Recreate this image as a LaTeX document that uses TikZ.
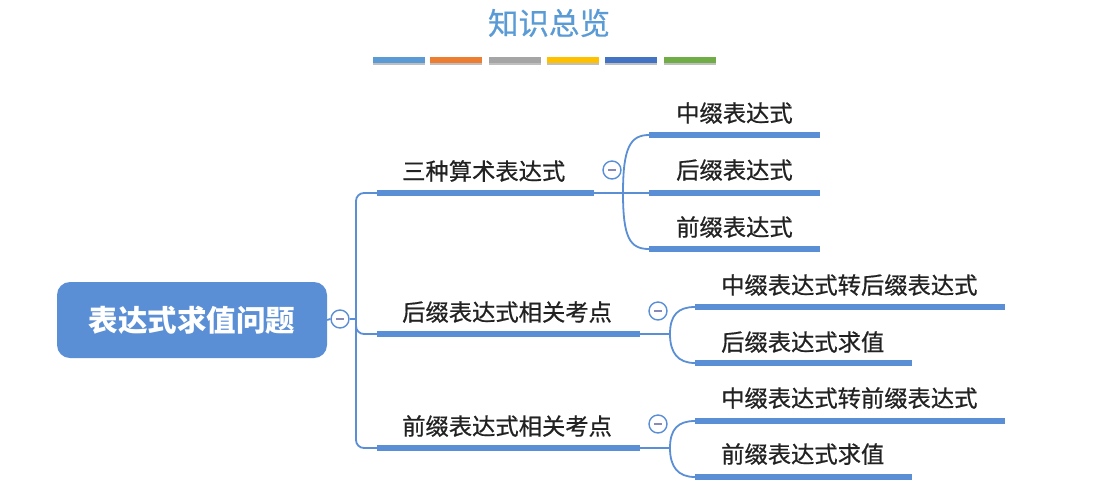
\documentclass[tikz,border=0pt]{standalone}
\usepackage{fontspec}
\newfontfamily\cjk{Noto Sans CJK SC}
\newfontfamily\cjkm{Noto Sans CJK SC}[FakeBold=0.6]
\definecolor{mblue}{HTML}{5A8ED5}
\definecolor{tblue}{HTML}{5B9BD5}
\definecolor{txt}{HTML}{222222}
\definecolor{minusc}{HTML}{8A8AB8}
\definecolor{c1}{HTML}{5B9BD5}
\definecolor{c2}{HTML}{ED7D31}
\definecolor{c3}{HTML}{A5A5A5}
\definecolor{c4}{HTML}{FFC000}
\definecolor{c5}{HTML}{4472C4}
\definecolor{c6}{HTML}{70AD47}
\begin{document}
\begin{tikzpicture}[x=1pt,y=-1pt,
  lbl/.style={font=\cjkm\fontsize{23.3}{27}\selectfont, text=txt, inner sep=0pt, anchor=west},
  bar/.style={line width=5.5pt, mblue},
  conn/.style={line width=1.8pt, mblue},
  tog/.style={circle, draw=mblue, line width=1.4pt, fill=white, minimum size=18pt, inner sep=0pt},
  minus/.style={line width=1.6pt, minusc},
  rootbox/.style={rectangle, rounded corners=13pt, fill=mblue, text=white,
     minimum width=270pt, minimum height=76pt, inner sep=0pt,
     font=\cjk\bfseries\fontsize{29.5}{33}\selectfont},
  cbar/.style={minimum width=52pt, minimum height=5.5pt, inner sep=0pt},
]
\useasboundingbox (0,0) rectangle (1105,499);

% title
\node[font=\cjkm\fontsize{30.5}{34}\selectfont, text=tblue, inner sep=0pt] (title) at (549,23) {知识总览};

% colour bars
\foreach \c/\x [count=\i] in {c1/399, c2/456, c3/515, c4/573, c5/631, c6/690}{
  \fill[black!25] (\x-26,58.5) rectangle (\x+26,64.5);
  \node[cbar, fill=\c] (bar\i) at (\x,60) {};
}

% root
\node[rootbox] (root) at (192,320) {表达式求值问题};
\node[tog] (t0) at (340,319) {};
\draw[minus] ([xshift=-4pt]t0.center) -- ([xshift=4pt]t0.center);
\coordinate (j0) at (356,319);
\draw[conn] (root.east) -- (t0.west);
\draw[conn] (t0.east) -- (j0);

% main branches
\coordinate (b1s) at (377,193); \coordinate (b1e) at (594,193);
\coordinate (b2s) at (377,334); \coordinate (b2e) at (640,334);
\coordinate (b3s) at (377,448); \coordinate (b3e) at (640,448);
\draw[conn, rounded corners=8pt] (j0) |- (b1s);
\draw[conn, rounded corners=8pt] (j0) |- (b2s);
\draw[conn, rounded corners=8pt] (j0) |- (b3s);
\draw[bar] (b1s) -- (b1e);
\draw[bar] (b2s) -- (b2e);
\draw[bar] (b3s) -- (b3e);
\node[lbl] (m1) at (402,171) {三种算术表达式};
\node[lbl] (m2) at (402,312) {后缀表达式相关考点};
\node[lbl] (m3) at (402,426) {前缀表达式相关考点};

% sub-branch 1
\coordinate (s1) at (623,193);
\node[tog] (t1) at (612,170) {};
\draw[minus] ([xshift=-4pt]t1.center) -- ([xshift=4pt]t1.center);
\coordinate (l11s) at (649,135); \coordinate (l11e) at (820,135);
\coordinate (l12s) at (649,193); \coordinate (l12e) at (820,193);
\coordinate (l13s) at (649,249); \coordinate (l13e) at (820,249);
\draw[conn] (b1e) -- (s1);
\draw[conn] (s1) .. controls (623,148) and (630,135) .. (l11s);
\draw[conn] (s1) -- (l12s);
\draw[conn] (s1) .. controls (623,238) and (630,249) .. (l13s);
\draw[bar] (l11s) -- (l11e);
\draw[bar] (l12s) -- (l12e);
\draw[bar] (l13s) -- (l13e);
\node[lbl] (n11) at (676,113) {中缀表达式};
\node[lbl] (n12) at (676,170) {后缀表达式};
\node[lbl] (n13) at (676,227) {前缀表达式};

% sub-branch 2
\coordinate (s2) at (670,334);
\node[tog] (t2) at (658,311) {};
\draw[minus] ([xshift=-4pt]t2.center) -- ([xshift=4pt]t2.center);
\coordinate (l21s) at (695,307); \coordinate (l21e) at (1005,307);
\coordinate (l22s) at (695,363); \coordinate (l22e) at (912,363);
\draw[conn] (b2e) -- (s2);
\draw[conn] (s2) .. controls (670,315) and (678,307) .. (l21s);
\draw[conn] (s2) .. controls (670,353) and (678,363) .. (l22s);
\draw[bar] (l21s) -- (l21e);
\draw[bar] (l22s) -- (l22e);
\node[lbl] (n21) at (721,285) {中缀表达式转后缀表达式};
\node[lbl] (n22) at (721,342) {后缀表达式求值};

% sub-branch 3
\coordinate (s3) at (670,448);
\node[tog] (t3) at (658,424) {};
\draw[minus] ([xshift=-4pt]t3.center) -- ([xshift=4pt]t3.center);
\coordinate (l31s) at (695,421); \coordinate (l31e) at (1005,421);
\coordinate (l32s) at (695,477); \coordinate (l32e) at (912,477);
\draw[conn] (b3e) -- (s3);
\draw[conn] (s3) .. controls (670,429) and (678,421) .. (l31s);
\draw[conn] (s3) .. controls (670,467) and (678,477) .. (l32s);
\draw[bar] (l31s) -- (l31e);
\draw[bar] (l32s) -- (l32e);
\node[lbl] (n31) at (721,398) {中缀表达式转前缀表达式};
\node[lbl] (n32) at (721,454) {前缀表达式求值};
\end{tikzpicture}
\end{document}
